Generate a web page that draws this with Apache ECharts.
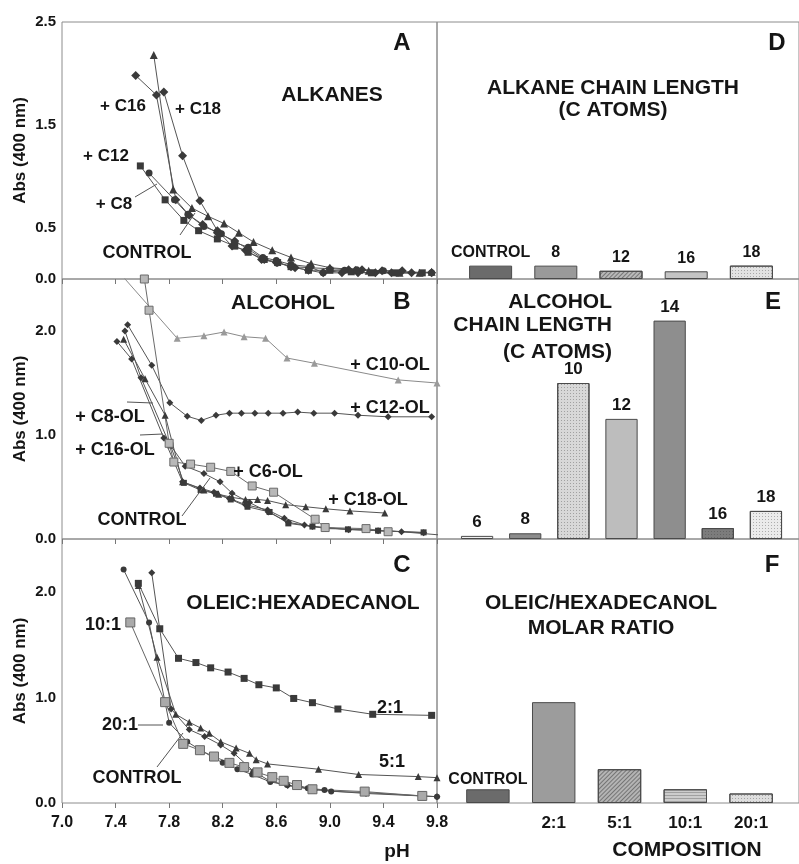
<!DOCTYPE html>
<html>
<head>
<meta charset="utf-8">
<script src="https://cdn.jsdelivr.net/npm/echarts@6/dist/echarts.min.js"></script>
<style>
html, body { margin: 0; padding: 0; background: #fff; }
#chart { width: 799px; height: 864px; }
</style>
</head>
<body>
<div id="chart"></div>
<script>
// axis ticks
const phTicks = [7.0, 7.4, 7.8, 8.2, 8.6, 9.0, 9.4, 9.8]
const absTicksA = [0, 0.5, 1.5, 2.5]
const absTicksBC = [0, 1, 2]

// A: alkanes  [pH, Abs 400 nm]
const alkControl = [[7.685,2.18],[7.83,0.87],[7.97,0.69],[8.09,0.61],[8.21,0.54],[8.32,0.45],[8.43,0.36],[8.57,0.28],[8.71,0.21],[8.86,0.15],[9.0,0.11],[9.19,0.09],[9.29,0.08],[9.52,0.06],[9.67,0.06],[9.76,0.07]]
const alkC16 = [[7.55,1.98],[7.705,1.79],[7.85,0.77],[7.95,0.62],[8.05,0.53],[8.16,0.45],[8.29,0.37],[8.39,0.29],[8.51,0.19],[8.61,0.16],[8.74,0.11],[8.84,0.085],[8.95,0.06],[9.09,0.06],[9.21,0.06],[9.34,0.06],[9.46,0.06],[9.61,0.06],[9.76,0.06]]
const alkC18 = [[7.76,1.82],[7.90,1.20],[8.03,0.76],[8.16,0.47],[8.27,0.32],[8.37,0.28],[8.49,0.19],[8.60,0.16],[8.71,0.12],[8.85,0.11],[9.0,0.10],[9.14,0.09],[9.24,0.09],[9.39,0.08],[9.54,0.08]]
const alkC12 = [[7.585,1.10],[7.77,0.77],[7.91,0.57],[8.02,0.47],[8.16,0.39],[8.29,0.32],[8.39,0.26],[8.51,0.19],[8.61,0.16],[8.71,0.12],[8.84,0.085],[9.0,0.085],[9.16,0.07],[9.31,0.06],[9.49,0.06],[9.69,0.06]]
const alkC8 = [[7.65,1.03],[7.84,0.77],[7.94,0.63],[8.06,0.51],[8.19,0.44],[8.29,0.355],[8.39,0.31],[8.50,0.21],[8.60,0.18],[8.71,0.14],[8.85,0.12],[8.95,0.06],[9.11,0.085],[9.20,0.09],[9.40,0.08],[9.76,0.06]]

// B: alcohols
const alcC10 = [[7.30,2.75],[7.86,1.93],[8.06,1.955],[8.21,1.99],[8.36,1.945],[8.52,1.93],[8.68,1.74],[8.885,1.69],[9.51,1.53],[9.8,1.50]]
const alcC12 = [[7.49,2.06],[7.67,1.67],[7.805,1.31],[7.935,1.18],[8.04,1.14],[8.15,1.19],[8.25,1.21],[8.34,1.21],[8.44,1.21],[8.54,1.21],[8.65,1.21],[8.76,1.22],[8.88,1.21],[9.035,1.21],[9.21,1.19],[9.435,1.175],[9.76,1.175]]
const alcC18 = [[7.46,1.92],[7.62,1.54],[7.77,1.19],[7.90,0.55],[8.06,0.47],[8.17,0.43],[8.27,0.40],[8.37,0.38],[8.46,0.38],[8.535,0.37],[8.67,0.33],[8.82,0.31],[8.97,0.29],[9.15,0.27],[9.41,0.25]]
const alcC8 = [[7.47,2.00],[7.59,1.55],[7.80,0.92],[7.92,0.70],[8.06,0.63],[8.18,0.55],[8.27,0.44],[8.40,0.35],[8.54,0.26],[8.69,0.16],[8.87,0.12],[9.14,0.09],[9.36,0.08],[9.70,0.06]]
const alcC16 = [[7.41,1.90],[7.52,1.73],[7.76,0.97],[7.90,0.55],[8.03,0.49],[8.135,0.45],[8.25,0.39],[8.37,0.33],[8.535,0.28],[8.66,0.20],[8.81,0.135],[8.97,0.10],[9.26,0.093],[9.535,0.07],[9.81,0.04]]
const alcControl = [[7.81,0.90],[7.91,0.54],[8.035,0.47],[8.15,0.435],[8.26,0.38],[8.385,0.31],[8.55,0.26],[8.69,0.15],[8.87,0.12],[9.135,0.093],[9.36,0.08],[9.70,0.064]]
const alcC6 = [[7.615,2.50],[7.65,2.20],[7.80,0.92],[7.835,0.74],[7.96,0.72],[8.11,0.69],[8.26,0.65],[8.42,0.51],[8.58,0.45],[8.89,0.19],[8.965,0.11],[9.27,0.10],[9.435,0.07]]

// C: oleic:hexadecanol
const oh2to1 = [[7.57,2.08],[7.73,1.65],[7.87,1.37],[8.00,1.33],[8.11,1.28],[8.24,1.24],[8.36,1.18],[8.47,1.12],[8.60,1.09],[8.73,0.99],[8.87,0.95],[9.06,0.89],[9.32,0.84],[9.76,0.83]]
const oh5to1 = [[7.57,2.06],[7.71,1.38],[7.85,0.84],[7.95,0.765],[8.035,0.71],[8.10,0.66],[8.185,0.58],[8.30,0.52],[8.40,0.47],[8.45,0.41],[8.535,0.37],[8.915,0.32],[9.215,0.27],[9.66,0.25],[9.8,0.24]]
const oh10to1 = [[7.51,1.71],[7.77,0.955],[7.905,0.56],[8.03,0.50],[8.135,0.44],[8.25,0.38],[8.36,0.34],[8.46,0.29],[8.57,0.245],[8.655,0.21],[8.755,0.17],[8.87,0.13],[9.26,0.108],[9.69,0.067]]
const oh20to1 = [[7.46,2.21],[7.65,1.71],[7.80,0.76],[7.935,0.58],[8.035,0.50],[8.20,0.38],[8.31,0.32],[8.42,0.27],[8.555,0.20],[8.68,0.17],[8.835,0.14],[8.96,0.124],[9.01,0.11],[9.25,0.10],[9.69,0.067],[9.8,0.06]]
const ohControl = [[7.67,2.18],[7.815,0.89],[7.95,0.695],[8.065,0.63],[8.185,0.55],[8.285,0.47],[8.43,0.30],[8.55,0.21],[8.685,0.165],[8.885,0.124],[9.27,0.09],[9.8,0.06]]

// D-F: bars
const dCats = ['CONTROL', '8', '12', '16', '18']
const dVals = [0.13, 0.13, 0.08, 0.075, 0.13]
const eCats = ['6', '8', '10', '12', '14', '16', '18']
const eVals = [0.03, 0.055, 1.50, 1.155, 2.10, 0.105, 0.27]
const fCats = ['CONTROL', '2:1', '5:1', '10:1', '20:1']
const fVals = [0.13, 0.955, 0.32, 0.13, 0.09]

const FONT = '"Liberation Sans", Arial, sans-serif'
const TXT = '#151515'
const rows = [{ top: 22, h: 257 }, { top: 279, h: 260 }, { top: 539, h: 264 }]

const diag = { symbol: 'rect', symbolSize: 1, dashArrayX: [1, 0], dashArrayY: [1, 2], rotation: -Math.PI / 4, color: 'rgba(40,40,40,0.45)' }
const dots = { symbol: 'rect', symbolSize: 1, dashArrayX: [1, 2], dashArrayY: [1, 2], color: 'rgba(60,60,60,0.35)' }
const hlines = { symbol: 'rect', symbolSize: 1, dashArrayX: [1, 0], dashArrayY: [1, 2], color: 'rgba(60,60,60,0.3)' }
const dStyle = [{ color: '#6b6b6b' }, { color: '#9a9a9a' }, { color: '#b8b8b8', decal: diag }, { color: '#c4c4c4' }, { color: '#e2e2e2', decal: dots }]
const eStyle = [{ color: '#f2f2f2' }, { color: '#8c8c8c' }, { color: '#d8d8d8', decal: dots }, { color: '#bdbdbd' }, { color: '#8e8e8e' }, { color: '#7c7c7c', decal: dots }, { color: '#ebebeb', decal: dots }]
const fStyle = [{ color: '#6b6b6b' }, { color: '#9c9c9c' }, { color: '#b4b4b4', decal: diag }, { color: '#cccccc', decal: hlines }, { color: '#dedede', decal: dots }]

const grid = [], xAxis = [], yAxis = [], series = []

// left line panels
rows.forEach((r, i) => {
  grid.push({ left: 62, width: 375, top: r.top, height: r.h, show: true, borderColor: '#8c8c8c', borderWidth: 1 })
  xAxis.push({
    gridIndex: i, type: 'value', min: 7.0, max: 9.8,
    axisLine: { show: false }, splitLine: { show: false },
    axisTick: { show: true, customValues: phTicks, length: 5, lineStyle: { color: '#777' } },
    axisLabel: { show: i === 2, customValues: phTicks, formatter: v => v.toFixed(1), margin: 12,
      fontFamily: FONT, fontWeight: 'bold', fontSize: 16, color: TXT }
  })
  yAxis.push({
    gridIndex: i, type: 'value', min: 0, max: 2.5,
    axisLine: { show: false }, axisTick: { show: false }, splitLine: { show: false },
    axisLabel: { customValues: i === 0 ? absTicksA : absTicksBC, formatter: v => v.toFixed(1), margin: 6,
      fontFamily: FONT, fontWeight: 'bold', fontSize: 15, color: TXT },
    name: 'Abs (400 nm)', nameLocation: 'middle', nameRotate: 90, nameGap: 33,
    nameTextStyle: { fontFamily: FONT, fontWeight: 'bold', fontSize: 17, color: TXT }
  })
})
// right frames
rows.forEach((r, i) => {
  grid.push({ left: 437, width: 364, top: r.top, height: r.h, show: true, borderColor: '#8c8c8c', borderWidth: 1 })
  xAxis.push({ gridIndex: 3 + i, type: 'value', min: 0, max: 1, show: false })
  yAxis.push({ gridIndex: 3 + i, type: 'value', min: 0, max: 1, show: false })
})
// bar grids
const barGrids = [{ left: 458, width: 326 }, { left: 453, width: 337 }, { left: 455, width: 329 }]
const barCats = [dCats, eCats, fCats]
barGrids.forEach((g, i) => {
  grid.push({ left: g.left, width: g.width, top: rows[i].top, height: rows[i].h })
  xAxis.push({
    gridIndex: 6 + i, type: 'category', data: barCats[i],
    axisLine: { show: false }, axisTick: { show: false },
    axisLabel: { show: i === 2, interval: 0, margin: 12, formatter: v => (v === 'CONTROL' ? '' : v),
      fontFamily: FONT, fontWeight: 'bold', fontSize: 17, color: TXT }
  })
  yAxis.push({ gridIndex: 6 + i, type: 'value', min: 0, max: 2.5, show: false })
})

function line(panel, data, symbol, size, fill, lineColor, border) {
  return {
    type: 'line', xAxisIndex: panel, yAxisIndex: panel, data: data,
    symbol: symbol, symbolSize: size, clip: true,
    lineStyle: { color: lineColor || '#555', width: 1 },
    itemStyle: { color: fill || '#3a3a3a', borderColor: border || fill || '#3a3a3a', borderWidth: border ? 1 : 0 }
  }
}
series.push(
  line(0, alkC18, 'diamond', 9),
  line(0, alkC16, 'diamond', 9),
  line(0, alkControl, 'triangle', 8),
  line(0, alkC12, 'rect', 7),
  line(0, alkC8, 'circle', 7),
  line(1, alcC10, 'triangle', 7, '#9a9a9a', '#8a8a8a'),
  line(1, alcC12, 'diamond', 7),
  line(1, alcC8, 'diamond', 7),
  line(1, alcC16, 'diamond', 7),
  line(1, alcControl, 'rect', 6),
  line(1, alcC18, 'triangle', 7),
  line(1, alcC6, 'rect', 8, '#b8b8b8', '#6a6a6a', '#6a6a6a'),
  line(2, oh2to1, 'rect', 7),
  line(2, oh5to1, 'triangle', 7),
  line(2, ohControl, 'diamond', 7),
  line(2, oh20to1, 'circle', 6),
  line(2, oh10to1, 'rect', 9, '#aaaaaa', '#666', '#666')
)

const barVals = [dVals, eVals, fVals]
const barStyles = [dStyle, eStyle, fStyle]
const gaps = ['34%', '33%', '34%']
barVals.forEach((vals, i) => {
  series.push({
    type: 'bar', xAxisIndex: 6 + i, yAxisIndex: 6 + i, barCategoryGap: gaps[i],
    data: vals.map((v, k) => ({
      value: v,
      itemStyle: Object.assign({ borderColor: '#4a4a4a', borderWidth: 1 }, barStyles[i][k]),
      label: { show: i < 2 || k === 0 }
    })),
    label: { position: 'top', distance: i === 2 ? 2 : 5, formatter: p => p.name,
      fontFamily: FONT, fontWeight: 'bold', fontSize: i === 1 ? 17 : 16, color: TXT }
  })
})

function txt(x, y, text, size, align) {
  return { type: 'text', x: x, y: y, z: 100, silent: true,
    style: { text: text, font: 'bold ' + size + 'px ' + FONT, fill: TXT,
      textAlign: align || 'center', textVerticalAlign: 'middle', align: align || 'center', verticalAlign: 'middle' } }
}
function lead(x1, y1, x2, y2) {
  return { type: 'line', z: 100, silent: true, shape: { x1: x1, y1: y1, x2: x2, y2: y2 }, style: { stroke: '#555', lineWidth: 1 } }
}

const graphic = [
  // A
  txt(402, 43, 'A', 24), txt(332, 95, 'ALKANES', 21),
  txt(123, 106, '+ C16', 17), txt(198, 109, '+ C18', 17), txt(106, 156, '+ C12', 17), txt(114, 204, '+ C8', 17),
  txt(147, 253, 'CONTROL', 18),
  lead(135, 197, 157, 184), lead(180, 235, 195, 213),
  // B
  txt(402, 302, 'B', 24), txt(283, 303, 'ALCOHOL', 21),
  txt(390, 365, '+ C10-OL', 18), txt(390, 408, '+ C12-OL', 18), txt(110, 417, '+ C8-OL', 18),
  txt(115, 450, '+ C16-OL', 18), txt(268, 472, '+ C6-OL', 18), txt(368, 500, '+ C18-OL', 18),
  txt(142, 520, 'CONTROL', 18),
  lead(127, 402, 153, 403), lead(140, 435, 163, 434), lead(182, 516, 210, 478),
  // C
  txt(402, 565, 'C', 24), txt(303, 603, 'OLEIC:HEXADECANOL', 21),
  txt(103, 625, '10:1', 18), txt(120, 725, '20:1', 18), txt(137, 778, 'CONTROL', 18),
  txt(390, 708, '2:1', 18), txt(392, 762, '5:1', 18),
  lead(138, 725, 163, 725), lead(157, 767, 183, 733),
  txt(397, 852, 'pH', 19),
  // D
  txt(777, 43, 'D', 24), txt(613, 88, 'ALKANE CHAIN LENGTH', 21), txt(613, 110, '(C ATOMS)', 21),
  // E
  txt(773, 302, 'E', 24), txt(612, 302, 'ALCOHOL', 21, 'right'), txt(612, 325, 'CHAIN LENGTH', 21, 'right'),
  txt(612, 352, '(C ATOMS)', 21, 'right'),
  // F
  txt(772, 565, 'F', 24), txt(601, 603, 'OLEIC/HEXADECANOL', 21), txt(601, 628, 'MOLAR RATIO', 21),
  txt(687, 850, 'COMPOSITION', 21)
]

const chart = echarts.init(document.getElementById('chart'), null, { renderer: 'canvas' })
chart.setOption({
  animation: false,
  backgroundColor: '#fff',
  grid: grid, xAxis: xAxis, yAxis: yAxis, series: series, graphic: graphic
})
</script>
</body>
</html>
